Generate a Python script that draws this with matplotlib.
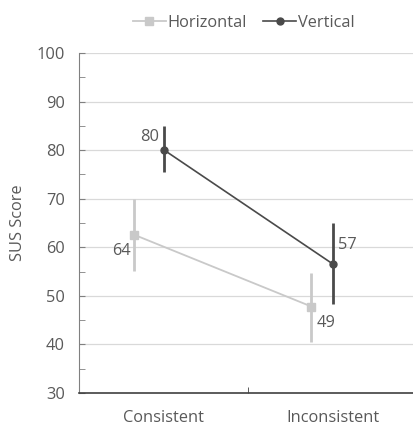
import matplotlib

matplotlib.use("Agg")
import matplotlib.pyplot as plt
from matplotlib.ticker import MultipleLocator

plt.rcParams["font.family"] = ["Open Sans", "DejaVu Sans"]

categories = ["Consistent", "Inconsistent"]
horiz_mean = [62.6, 47.8]
horiz_lo = [55.2, 40.6]
horiz_hi = [69.9, 54.8]
horiz_labels = ["64", "49"]
vert_mean = [80.1, 56.6]
vert_lo = [75.6, 48.3]
vert_hi = [85.0, 65.1]
vert_labels = ["80", "57"]

TXT = "#595959"
H_COL = "#c9c9c9"
V_COL = "#4a4a4a"
FS = 11.8

fig = plt.figure(figsize=(4.13, 4.30), dpi=100)
ax = fig.add_axes([79 / 413, 1 - 393 / 430, 1 - 79 / 413, (393 - 53) / 430])

xh = [-0.175, 0.875]
xv = [0, 1]

ax.plot(xh, horiz_mean, color=H_COL, lw=1.3, marker="s", ms=6, zorder=3, label="Horizontal")
ax.vlines(xh, horiz_lo, horiz_hi, color=H_COL, lw=2, zorder=2)
ax.plot(xv, vert_mean, color=V_COL, lw=1.2, marker="o", ms=5, zorder=4, label="Vertical")
ax.vlines(xv, vert_lo, vert_hi, color=V_COL, lw=2, zorder=2)

# data labels
ax.annotate(horiz_labels[0], (xh[0], horiz_mean[0]), xytext=(-2, -6), textcoords="offset points",
            ha="right", va="top", color=TXT, fontsize=FS)
ax.annotate(horiz_labels[1], (xh[1], horiz_mean[1]), xytext=(4, -6), textcoords="offset points",
            ha="left", va="top", color=TXT, fontsize=FS)
ax.annotate(vert_labels[0], (xv[0], vert_mean[0]), xytext=(-3, 3), textcoords="offset points",
            ha="right", va="bottom", color=TXT, fontsize=FS)
ax.annotate(vert_labels[1], (xv[1], vert_mean[1]), xytext=(4, 8), textcoords="offset points",
            ha="left", va="bottom", color=TXT, fontsize=FS)

ax.set_xlim(-0.5, 1.476)
ax.set_ylim(30, 100)
ax.yaxis.set_major_locator(MultipleLocator(10))
ax.yaxis.set_minor_locator(MultipleLocator(5))
ax.set_xticks([0, 1])
ax.set_xticklabels(categories)
ax.set_xticks([0.5], minor=True)
ax.tick_params(axis="x", which="major", length=0, pad=12, labelsize=FS, labelcolor=TXT)
ax.tick_params(axis="x", which="minor", direction="in", length=4, color="#404040")
ax.tick_params(axis="y", which="both", direction="in", length=4, color="#808080",
               labelsize=FS, labelcolor=TXT, pad=10)
ax.grid(axis="y", which="major", color="#d9d9d9", lw=0.9)
ax.set_axisbelow(True)

for s in ["top", "right"]:
    ax.spines[s].set_visible(False)
ax.spines["left"].set_color("#808080")
ax.spines["bottom"].set_color("#404040")
ax.spines["bottom"].set_linewidth(1.2)

ax.set_ylabel("SUS Score", color=TXT, fontsize=FS, labelpad=8)

fig.legend(loc="upper center", bbox_to_anchor=(0.59, 1.0), ncol=2, frameon=False,
           fontsize=FS, labelcolor=TXT, handlelength=2.0, handletextpad=0.1, columnspacing=1.0)

fig.savefig("out.png", dpi=100)
